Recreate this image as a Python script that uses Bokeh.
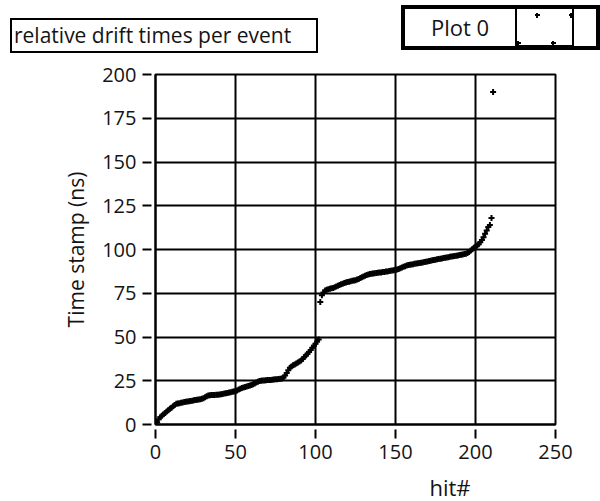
from bokeh.plotting import figure
from bokeh.layouts import column
from bokeh.models import Range1d, FixedTicker, Div
from bokeh.embed import file_html
from bokeh.resources import INLINE

# ---- data ----
times = [
    0.0, 1.2, 3.0, 4.1, 5.0, 5.8, 6.6, 7.4, 8.2, 9.0,
    9.6, 10.4, 11.2, 11.8, 12.0, 12.2, 12.4, 12.6, 12.8, 13.0,
    13.1, 13.3, 13.5, 13.6, 13.8, 14.0, 14.2, 14.3, 14.5, 14.7,
    15.0, 15.6, 16.2, 16.6, 16.7, 16.8, 16.8, 16.9, 17.0, 17.0,
    17.1, 17.3, 17.5, 17.7, 17.8, 18.0, 18.3, 18.5, 18.7, 18.9,
    19.2, 19.5, 20.0, 20.4, 20.8, 21.1, 21.4, 21.7, 22.0, 22.3,
    22.6, 23.0, 23.5, 24.0, 24.4, 24.8, 25.0, 25.1, 25.2, 25.3,
    25.4, 25.5, 25.5, 25.6, 25.7, 25.8, 25.9, 26.0, 26.1, 26.3,
    26.8, 28.0, 29.5, 31.0, 32.5, 33.2, 33.8, 34.3, 34.9, 35.5,
    36.0, 36.6, 37.5, 38.6, 39.5, 40.4, 41.5, 42.6, 43.8, 45.0,
    46.2, 47.4, 48.6,
    70.0, 73.8, 75.5, 76.6, 77.0, 77.3, 77.6, 77.8, 78.0, 78.4,
    78.9, 79.3, 79.7, 80.1, 80.5, 80.8, 81.1, 81.4, 81.6, 81.8,
    82.1, 82.3, 82.5, 82.8, 83.2, 83.7, 84.2, 84.6, 85.0, 85.4,
    85.7, 86.0, 86.2, 86.3, 86.4, 86.6, 86.7, 86.8, 86.9, 87.1,
    87.2, 87.4, 87.5, 87.7, 87.9, 88.0, 88.2, 88.4, 88.6, 88.9,
    89.3, 89.7, 90.1, 90.5, 90.9, 91.1, 91.3, 91.5, 91.6, 91.8,
    92.0, 92.1, 92.3, 92.5, 92.6, 92.8, 93.0, 93.2, 93.4, 93.6,
    93.8, 94.0, 94.2, 94.4, 94.6, 94.7, 94.9, 95.1, 95.3, 95.5,
    95.6, 95.8, 96.0, 96.1, 96.3, 96.5, 96.6, 96.8, 97.0, 97.2,
    97.4, 97.6, 98.0, 98.6, 99.4, 100.2, 101.0, 101.7, 102.3, 103.0,
    104.2, 105.5, 107.0, 109.0, 110.9, 112.8, 114.0, 118.0, 190.0,
]
hits = list(range(len(times)))

x_ticks = [0, 50, 100, 150, 200, 250]
y_ticks = [0, 25, 50, 75, 100, 125, 150, 175, 200]

chart_title = "relative drift times per event"
legend_label = "Plot 0"
x_label = "hit#"
y_label = "Time stamp (ns)"

FONT = "Open Sans"
TXT = "#141414"
TOP_H = 60      # header strip height
BOT_Y = 472     # where the footer strip starts

# ---------- header strip: title box + LabVIEW-style legend ----------
def cross(cx, cy):
    return (f'<div style="position:absolute;left:{cx-2}px;top:{cy-1}px;width:5px;height:2px;background:#000;"></div>'
            f'<div style="position:absolute;left:{cx-1}px;top:{cy-2}px;width:2px;height:5px;background:#000;"></div>')

marker_cell = "".join(cross(cx, cy) for cx, cy in [(20, 6), (54, 6), (1, 34), (36, 34)])

hdr_html = f"""
<div style="position:relative;width:600px;height:{TOP_H}px;font-family:'{FONT}';color:{TXT};overflow:hidden;">
  <div style="position:absolute;box-sizing:border-box;left:10px;top:18px;width:308px;height:35px;
              border:2px solid #000;background:#fff;font-size:21px;line-height:31px;padding-left:2px;white-space:nowrap;">{chart_title}</div>
  <div style="position:absolute;left:401px;top:5px;width:199px;height:45px;background:#000;"></div>
  <div style="position:absolute;left:405px;top:9px;width:110px;height:37px;background:#fff;
              font-size:22px;line-height:36px;text-align:center;white-space:nowrap;">{legend_label}</div>
  <div style="position:absolute;left:517px;top:9px;width:55px;height:36px;background:#fff;overflow:hidden;">{marker_cell}</div>
  <div style="position:absolute;left:574px;top:9px;width:22px;height:37px;background:#fff;"></div>
</div>
"""
hdr = Div(text=hdr_html, width=600, height=TOP_H, styles={"margin": "0", "padding": "0"})

# ---------- main chart ----------
p = figure(width=600, height=BOT_Y - TOP_H,
           x_range=Range1d(0, 250), y_range=Range1d(0, 200),
           output_backend="svg", toolbar_location=None,
           min_border_left=155, min_border_right=45,
           min_border_top=74 - TOP_H, min_border_bottom=BOT_Y - 424,
           background_fill_color="white", border_fill_color="white")

p.scatter(hits, times, marker="cross", size=6, line_width=2, color="black")

p.xaxis.ticker = FixedTicker(ticks=x_ticks)
p.yaxis.ticker = FixedTicker(ticks=y_ticks)
p.axis.minor_tick_line_color = None
p.axis.major_tick_line_color = "black"
p.axis.major_tick_line_width = 2
p.xaxis.major_tick_out = 14
p.xaxis.major_tick_in = -5
p.yaxis.major_tick_out = 13
p.yaxis.major_tick_in = -4
p.axis.axis_line_color = "black"
p.axis.axis_line_width = 2
p.axis.major_label_text_font = FONT
p.axis.major_label_text_font_size = "20px"
p.axis.major_label_text_color = TXT
p.xaxis.major_label_standoff = 6
p.yaxis.major_label_standoff = 6
p.yaxis.axis_label = y_label
p.yaxis.axis_label_text_font = FONT
p.yaxis.axis_label_text_font_size = "21px"
p.yaxis.axis_label_text_font_style = "normal"
p.yaxis.axis_label_text_color = TXT
p.yaxis.axis_label_standoff = 9

p.grid.grid_line_color = "black"
p.grid.grid_line_width = 2
p.grid.grid_line_alpha = 1
p.outline_line_color = "black"
p.outline_line_width = 2
p.outline_line_alpha = 1

# ---------- footer strip: x-axis caption (off-centre, as in the reference) ----------
ftr_html = f"""
<div style="position:relative;width:600px;height:{501 - BOT_Y}px;font-family:'{FONT}';color:{TXT};">
  <div style="position:absolute;left:400px;width:100px;top:{476 - BOT_Y}px;font-size:22px;line-height:22px;
              text-align:center;white-space:nowrap;">{x_label}</div>
</div>
"""
ftr = Div(text=ftr_html, width=600, height=501 - BOT_Y, styles={"margin": "0", "padding": "0"})

layout = column(hdr, p, ftr, spacing=0)
open("out.html", "w").write(file_html(layout, INLINE))
